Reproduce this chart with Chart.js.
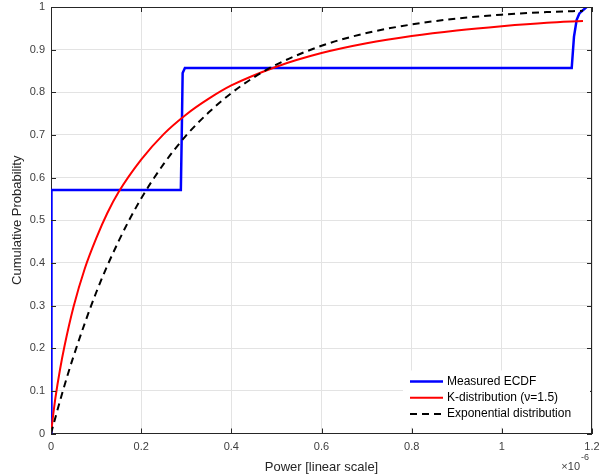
<!DOCTYPE html>
<html>
<head>
<meta charset="utf-8">
<script src="https://cdn.jsdelivr.net/npm/chart.js@4"></script>
<style>
  html, body { margin: 0; padding: 0; background: #fff; }
  #wrap { width: 605px; height: 476px; }
</style>
</head>
<body>
<div id="wrap"><canvas id="cdfChart" width="605" height="476"></canvas></div>
<script>
// --- data (x in units of 1e-6) ---
const ecdfX = [0, 0, 0.002, 0.288, 0.290, 0.292, 0.297, 1.155, 1.160, 1.166, 1.172, 1.188];
const ecdfY = [0, 0.300, 0.571, 0.571, 0.700, 0.845, 0.857, 0.857, 0.930, 0.970, 0.985, 1.000];

const kX = [0, 0.005, 0.01, 0.02, 0.03, 0.05, 0.075, 0.1, 0.125, 0.15, 0.2, 0.25, 0.3, 0.35, 0.4, 0.5, 0.6, 0.7, 0.8, 0.9, 1.0, 1.1, 1.18];
const kY = [0, 0.045, 0.085, 0.150, 0.205, 0.297, 0.387, 0.457, 0.517, 0.566, 0.642, 0.702, 0.748, 0.785, 0.816, 0.860, 0.892, 0.915, 0.932, 0.945, 0.955, 0.963, 0.967];

const expX = [0, 0.025, 0.05, 0.1, 0.15, 0.2, 0.25, 0.3, 0.35, 0.4, 0.45, 0.5, 0.6, 0.7, 0.8, 0.9, 1.0, 1.1, 1.18];
const expY = [0, 0.095, 0.181, 0.330, 0.451, 0.551, 0.632, 0.699, 0.753, 0.798, 0.835, 0.865, 0.909, 0.939, 0.959, 0.973, 0.982, 0.988, 0.991];

const seriesLabels = ["Measured ECDF", "K-distribution (\u03BD=1.5)", "Exponential distribution"];
const xTickValues = [0, 0.2, 0.4, 0.6, 0.8, 1, 1.2];
const yTickValues = [0, 0.1, 0.2, 0.3, 0.4, 0.5, 0.6, 0.7, 0.8, 0.9, 1];

const toPoints = (xs, ys) => xs.map((x, i) => ({ x: x, y: ys[i] }));

const FONT = "'Liberation Sans', Arial, Helvetica, sans-serif";
const AXIS_COLOR = "#262626";

// box round the axes, inward tick marks, legend and the x10^-6 label
const matlabFrame = {
    id: "matlabFrame",
    afterDatasetsDraw(chart) {
        const ctx = chart.ctx;
        const a = chart.chartArea;
        const xs = chart.scales.x, ys = chart.scales.y;
        ctx.save();
        ctx.strokeStyle = AXIS_COLOR;
        ctx.lineWidth = 1;
        ctx.beginPath();
        ctx.moveTo(a.left, a.top + 0.5);
        ctx.lineTo(a.right, a.top + 0.5);
        ctx.moveTo(a.right - 0.5, a.top);
        ctx.lineTo(a.right - 0.5, a.bottom);
        const len = 5;
        xTickValues.forEach(v => {
            const px = Math.round(xs.getPixelForValue(v)) + 0.5;
            ctx.moveTo(px, a.bottom); ctx.lineTo(px, a.bottom - len);
            ctx.moveTo(px, a.top); ctx.lineTo(px, a.top + len);
        });
        yTickValues.forEach(v => {
            const py = Math.round(ys.getPixelForValue(v)) + 0.5;
            ctx.moveTo(a.left, py); ctx.lineTo(a.left + len, py);
            ctx.moveTo(a.right, py); ctx.lineTo(a.right - len, py);
        });
        ctx.stroke();
        ctx.restore();
    },
    afterDraw(chart) {
        const ctx = chart.ctx;
        const a = chart.chartArea;
        ctx.save();

        // legend (white, no border)
        const boxL = a.right - 189, boxT = a.bottom - 63;
        ctx.fillStyle = "#fff";
        ctx.fillRect(boxL, boxT, 187, 57);
        ctx.font = "12px " + FONT;
        ctx.textBaseline = "middle";
        ctx.textAlign = "left";
        chart.data.datasets.forEach((ds, i) => {
            const y = boxT + 11 + i * 16.2;
            ctx.strokeStyle = ds.borderColor;
            ctx.lineWidth = ds.borderWidth;
            ctx.setLineDash(ds.borderDash || []);
            ctx.beginPath();
            ctx.moveTo(boxL + 7, y);
            ctx.lineTo(boxL + 40, y);
            ctx.stroke();
            ctx.setLineDash([]);
            ctx.fillStyle = "#000";
            ctx.fillText(ds.label, boxL + 44, y);
        });

        // exponent label
        ctx.fillStyle = "#404040";
        ctx.font = "11px " + FONT;
        ctx.textAlign = "right";
        ctx.fillText("\u00D710", a.right - 12, 467);
        ctx.font = "9px " + FONT;
        ctx.textAlign = "left";
        ctx.fillText("-6", a.right - 11, 458);
        ctx.restore();
    }
};

const ctx = document.getElementById("cdfChart").getContext("2d");

new Chart(ctx, {
    type: "line",
    data: {
        datasets: [
            {
                label: seriesLabels[0],
                data: toPoints(ecdfX, ecdfY),
                borderColor: "#0000ff",
                borderWidth: 2.5,
                pointRadius: 0,
                tension: 0,
                order: 3
            },
            {
                label: seriesLabels[1],
                data: toPoints(kX, kY),
                borderColor: "#ff0000",
                borderWidth: 2,
                pointRadius: 0,
                cubicInterpolationMode: "monotone",
                order: 2
            },
            {
                label: seriesLabels[2],
                data: toPoints(expX, expY),
                borderColor: "#000000",
                borderWidth: 2,
                borderDash: [7, 5],
                pointRadius: 0,
                cubicInterpolationMode: "monotone",
                order: 1
            }
        ]
    },
    options: {
        responsive: false,
        animation: false,
        parsing: false,
        layout: { padding: { top: 7, right: 13, left: 0, bottom: 0 } },
        plugins: {
            legend: { display: false },
            tooltip: { enabled: false }
        },
        scales: {
            x: {
                type: "linear",
                min: 0,
                max: 1.2,
                afterBuildTicks: s => { s.ticks = xTickValues.map(v => ({ value: v })); },
                afterFit: s => { s.height = 42.5; },
                ticks: {
                    padding: 0,
                    color: "#404040",
                    font: { family: FONT, size: 11 },
                    maxRotation: 0,
                    callback: v => String(Math.round(v * 10) / 10)
                },
                grid: { color: "#e3e3e3", drawTicks: true, tickLength: 7, tickColor: "rgba(0,0,0,0)", lineWidth: 1 },
                border: { display: true, color: AXIS_COLOR, width: 1 },
                title: {
                    display: true,
                    text: "Power [linear scale]",
                    color: "#262626",
                    font: { family: FONT, size: 13 },
                    padding: { top: 0, bottom: 1 }
                }
            },
            y: {
                type: "linear",
                min: 0,
                max: 1,
                afterBuildTicks: s => { s.ticks = yTickValues.map(v => ({ value: v })); },
                afterFit: s => { s.width = 51; },
                ticks: {
                    padding: 0,
                    color: "#404040",
                    font: { family: FONT, size: 11 },
                    callback: v => String(Math.round(v * 10) / 10)
                },
                grid: { color: "#e3e3e3", drawTicks: true, tickLength: 6, tickColor: "rgba(0,0,0,0)", lineWidth: 1 },
                border: { display: true, color: AXIS_COLOR, width: 1 },
                title: {
                    display: true,
                    text: "Cumulative Probability",
                    color: "#262626",
                    font: { family: FONT, size: 13 },
                    padding: { top: 10, bottom: 0 }
                }
            }
        }
    },
    plugins: [matlabFrame]
});
</script>
</body>
</html>
